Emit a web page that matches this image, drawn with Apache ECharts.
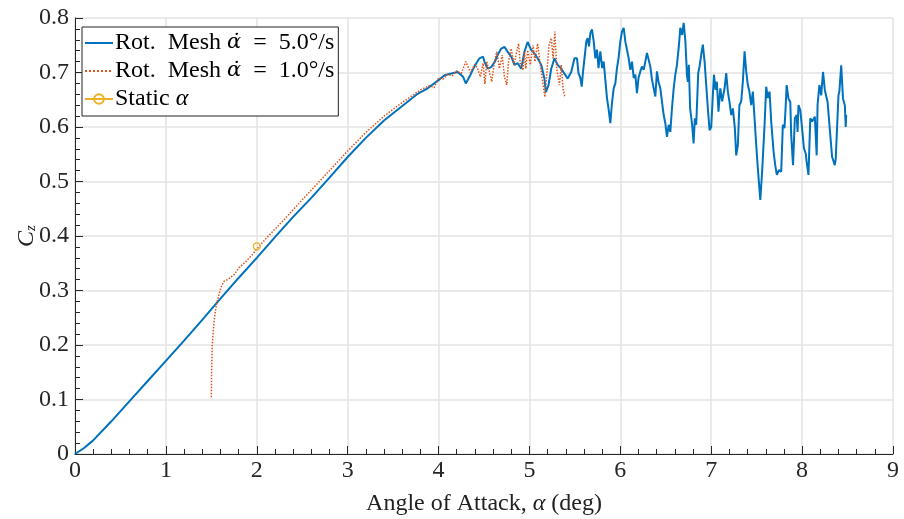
<!DOCTYPE html>
<html>
<head>
<meta charset="utf-8">
<script src="https://cdn.jsdelivr.net/npm/echarts@6/dist/echarts.min.js"></script>
<style>html,body{margin:0;padding:0;background:#fff;}#c{width:904px;height:519px;}</style>
</head>
<body>
<div id="c"></div>
<script>
const xTicks = [0,1,2,3,4,5,6,7,8,9];
const yTicks = [0,0.1,0.2,0.3,0.4,0.5,0.6,0.7,0.8];
const seriesNames = ['Rot. Mesh 5', 'Rot. Mesh 1', 'Static'];

const blueData = [[0,0],[0.1,0.011],[0.2,0.025],[0.4,0.06],[0.6,0.097],[0.8,0.134],[1.0,0.171],[1.2,0.208],[1.4,0.246],[1.6,0.285],[1.8,0.323],[2.0,0.36],[2.2,0.398],[2.4,0.435],[2.6,0.47],[2.8,0.507],[3.0,0.545],[3.2,0.58],[3.4,0.612],[3.59,0.637],[3.77,0.661],[3.88,0.671],[4.0,0.686],[4.066,0.695],[4.14,0.698],[4.21,0.701],[4.27,0.692],[4.30,0.68],[4.34,0.692],[4.40,0.713],[4.45,0.726],[4.49,0.729],[4.505,0.72],[4.54,0.707],[4.58,0.71],[4.62,0.72],[4.65,0.732],[4.69,0.744],[4.725,0.747],[4.76,0.738],[4.80,0.729],[4.835,0.714],[4.87,0.717],[4.91,0.707],[4.945,0.738],[4.98,0.756],[5.02,0.741],[5.055,0.735],[5.09,0.726],[5.13,0.714],[5.165,0.689],[5.18,0.664],[5.21,0.677],[5.24,0.707],[5.275,0.726],[5.31,0.714],[5.35,0.707],[5.385,0.698],[5.42,0.689],[5.46,0.701],[5.495,0.726],[5.523,0.726],[5.54,0.699],[5.56,0.69],[5.575,0.674],[5.59,0.702],[5.61,0.705],[5.626,0.757],[5.64,0.763],[5.655,0.748],[5.67,0.772],[5.688,0.779],[5.707,0.757],[5.725,0.726],[5.743,0.742],[5.76,0.708],[5.78,0.739],[5.8,0.708],[5.817,0.72],[5.835,0.687],[5.853,0.653],[5.87,0.634],[5.89,0.607],[5.908,0.644],[5.927,0.671],[5.945,0.68],[5.963,0.708],[5.98,0.726],[6.0,0.757],[6.018,0.775],[6.037,0.782],[6.055,0.757],[6.073,0.76],[6.092,0.726],[6.11,0.705],[6.128,0.72],[6.147,0.69],[6.165,0.696],[6.183,0.662],[6.2,0.69],[6.22,0.702],[6.238,0.711],[6.257,0.705],[6.275,0.72],[6.293,0.736],[6.31,0.739],[6.33,0.711],[6.348,0.687],[6.367,0.671],[6.385,0.656],[6.403,0.702],[6.42,0.683],[6.44,0.671],[6.458,0.647],[6.477,0.622],[6.495,0.607],[6.513,0.582],[6.532,0.604],[6.55,0.591],[6.568,0.634],[6.587,0.671],[6.605,0.696],[6.623,0.714],[6.642,0.745],[6.66,0.782],[6.68,0.769],[6.697,0.791],[6.716,0.757],[6.733,0.696],[6.743,0.683],[6.754,0.714],[6.768,0.634],[6.79,0.604],[6.806,0.57],[6.82,0.616],[6.835,0.604],[6.857,0.699],[6.872,0.711],[6.89,0.733],[6.908,0.751],[6.927,0.72],[6.945,0.677],[6.963,0.634],[6.982,0.594],[7.0,0.6],[7.018,0.659],[7.03,0.696],[7.048,0.668],[7.062,0.683],[7.08,0.628],[7.1,0.671],[7.12,0.647],[7.147,0.671],[7.165,0.699],[7.183,0.665],[7.2,0.647],[7.22,0.622],[7.238,0.634],[7.26,0.598],[7.275,0.548],[7.293,0.567],[7.31,0.64],[7.33,0.647],[7.348,0.683],[7.367,0.739],[7.385,0.702],[7.403,0.677],[7.42,0.665],[7.44,0.64],[7.458,0.665],[7.477,0.665],[7.495,0.567],[7.513,0.524],[7.54,0.466],[7.56,0.518],[7.587,0.604],[7.605,0.674],[7.623,0.653],[7.642,0.665],[7.66,0.61],[7.686,0.555],[7.704,0.53],[7.722,0.512],[7.744,0.521],[7.77,0.518],[7.788,0.604],[7.806,0.598],[7.817,0.631],[7.83,0.677],[7.85,0.652],[7.87,0.646],[7.88,0.585],[7.90,0.53],[7.92,0.616],[7.94,0.622],[7.95,0.591],[7.96,0.64],[7.98,0.631],[8.0,0.597],[8.02,0.561],[8.04,0.551],[8.05,0.536],[8.07,0.512],[8.09,0.616],[8.11,0.61],[8.14,0.619],[8.16,0.548],[8.17,0.64],[8.19,0.677],[8.21,0.658],[8.23,0.701],[8.25,0.668],[8.28,0.646],[8.31,0.585],[8.33,0.545],[8.36,0.53],[8.37,0.542],[8.40,0.658],[8.41,0.665],[8.43,0.713],[8.45,0.652],[8.47,0.64],[8.48,0.60],[8.485,0.622]];

const redData = [[1.5,0.104],[1.503,0.15],[1.51,0.2],[1.53,0.244],[1.55,0.268],[1.575,0.287],[1.604,0.305],[1.64,0.317],[1.678,0.32],[1.696,0.317],[1.75,0.329],[1.806,0.342],[1.879,0.353],[1.952,0.366],[2.0,0.376],[2.1,0.395],[2.3,0.43],[2.52,0.47],[2.8,0.52],[3.0,0.556],[3.2,0.59],[3.4,0.62],[3.6,0.645],[3.8,0.668],[3.9,0.676],[3.95,0.672],[4.0,0.69],[4.05,0.688],[4.1,0.697],[4.15,0.694],[4.2,0.703],[4.25,0.698],[4.3,0.72],[4.35,0.70],[4.4,0.715],[4.43,0.707],[4.46,0.692],[4.49,0.717],[4.51,0.679],[4.53,0.72],[4.56,0.701],[4.585,0.683],[4.615,0.72],[4.64,0.738],[4.67,0.707],[4.70,0.732],[4.725,0.692],[4.75,0.677],[4.77,0.72],[4.80,0.744],[4.83,0.714],[4.86,0.738],[4.88,0.753],[4.90,0.714],[4.93,0.704],[4.945,0.738],[4.96,0.707],[4.98,0.741],[5.01,0.714],[5.04,0.75],[5.06,0.72],[5.09,0.753],[5.12,0.714],[5.145,0.683],[5.17,0.655],[5.19,0.695],[5.215,0.75],[5.24,0.763],[5.26,0.726],[5.28,0.775],[5.30,0.707],[5.33,0.677],[5.35,0.714],[5.37,0.67],[5.39,0.655]];

const staticData = [[2.0,0.381]];

const FONT = 'Liberation Serif';
const SZ = 24;
const legendLabels = {
  'Rot. Mesh 5': '{n|Rot.\u2002Mesh }{i|α̇}{n|\u2002=\u20025.0°/s}',
  'Rot. Mesh 1': '{n|Rot.\u2002Mesh }{i|α̇}{n|\u2002=\u20021.0°/s}',
  'Static': '{n|Static }{j|α}'
};

const chart = echarts.init(document.getElementById('c'), null, {renderer: 'canvas'});
chart.setOption({
  animation: false,
  backgroundColor: '#fff',
  grid: {left: 75, right: 11, top: 18, bottom: 65, containLabel: false, outerBoundsMode: 'none'},
  legend: {
    left: 82, top: 27, orient: 'vertical',
    backgroundColor: '#fff', borderColor: '#222', borderWidth: 1, borderRadius: 0,
    padding: [4, 4, 5, 2], itemGap: 4, itemWidth: 28, itemHeight: 12,
    data: [
      {name: seriesNames[0], itemStyle: {opacity: 0}},
      {name: seriesNames[1], itemStyle: {opacity: 0}},
      {name: seriesNames[2]}
    ],
    formatter: function (n) { return legendLabels[n]; },
    textStyle: {
      fontFamily: FONT, fontSize: SZ, color: '#000', padding: [0, 0, 0, -3],
      rich: {
        n: {fontFamily: FONT, fontSize: SZ, color: '#000'},
        i: {fontFamily: 'DejaVu Serif', fontSize: 21, fontStyle: 'italic', color: '#000'},
        j: {fontFamily: FONT, fontSize: SZ, fontStyle: 'italic', color: '#000'}
      }
    }
  },
  xAxis: {
    type: 'value', min: 0, max: 9, interval: 1,
    name: '{n|Angle of Attack, }{i|α}{n| (deg)}',
    nameLocation: 'middle', nameGap: 38, nameMoveOverlap: false,
    nameTextStyle: {
      fontFamily: FONT, fontSize: SZ, color: '#222',
      rich: {n: {fontFamily: FONT, fontSize: SZ, color: '#222'}, i: {fontFamily: FONT, fontSize: SZ, fontStyle: 'italic', color: '#222'}}
    },
    axisLine: {show: true, onZero: false, lineStyle: {color: '#262626', width: 1}},
    axisTick: {show: true, inside: true, length: 8, lineStyle: {color: '#262626'}},
    minorTick: {show: true, splitNumber: 5, length: 5, lineStyle: {color: '#262626'}},
    axisLabel: {fontFamily: FONT, fontSize: SZ, color: '#262626', margin: 5},
    splitLine: {show: true, lineStyle: {color: '#e3e3e3', width: 1.5}}
  },
  yAxis: {
    type: 'value', min: 0, max: 0.8, interval: 0.1,
    name: '{c|C}{s|z}',
    nameLocation: 'middle', nameGap: 36, nameRotate: 90, nameMoveOverlap: false,
    nameTextStyle: {
      fontFamily: FONT, fontSize: SZ, color: '#222',
      rich: {c: {fontFamily: FONT, fontSize: SZ, fontStyle: 'italic', color: '#222'}, s: {fontFamily: FONT, fontSize: 15, fontStyle: 'italic', color: '#222', padding: [10, 0, 0, 0]}}
    },
    axisLine: {show: true, onZero: false, lineStyle: {color: '#262626', width: 1}},
    axisTick: {show: true, inside: true, length: 8, lineStyle: {color: '#262626'}},
    minorTick: {show: true, splitNumber: 5, length: 5, lineStyle: {color: '#262626'}},
    axisLabel: {fontFamily: FONT, fontSize: SZ, color: '#262626', margin: 6},
    splitLine: {show: true, lineStyle: {color: '#e3e3e3', width: 1.5}}
  },
  series: [
    {
      name: seriesNames[0], type: 'line', data: blueData, showSymbol: false, symbol: 'none',
      lineStyle: {color: '#0072BD', width: 2}, itemStyle: {color: '#0072BD'}, z: 3
    },
    {
      name: seriesNames[1], type: 'line', data: redData, showSymbol: false, symbol: 'none',
      lineStyle: {color: '#D95319', width: 1.5, type: 'dotted'}, itemStyle: {color: '#D95319'}, z: 4
    },
    {
      name: seriesNames[2], type: 'line', data: staticData, symbol: 'circle', symbolSize: 7, showSymbol: true,
      lineStyle: {color: '#EDB120', width: 1.3},
      itemStyle: {color: 'rgba(255,255,255,0)', borderColor: '#EDB120', borderWidth: 1.3}, z: 5
    }
  ]
});
</script>
</body>
</html>
